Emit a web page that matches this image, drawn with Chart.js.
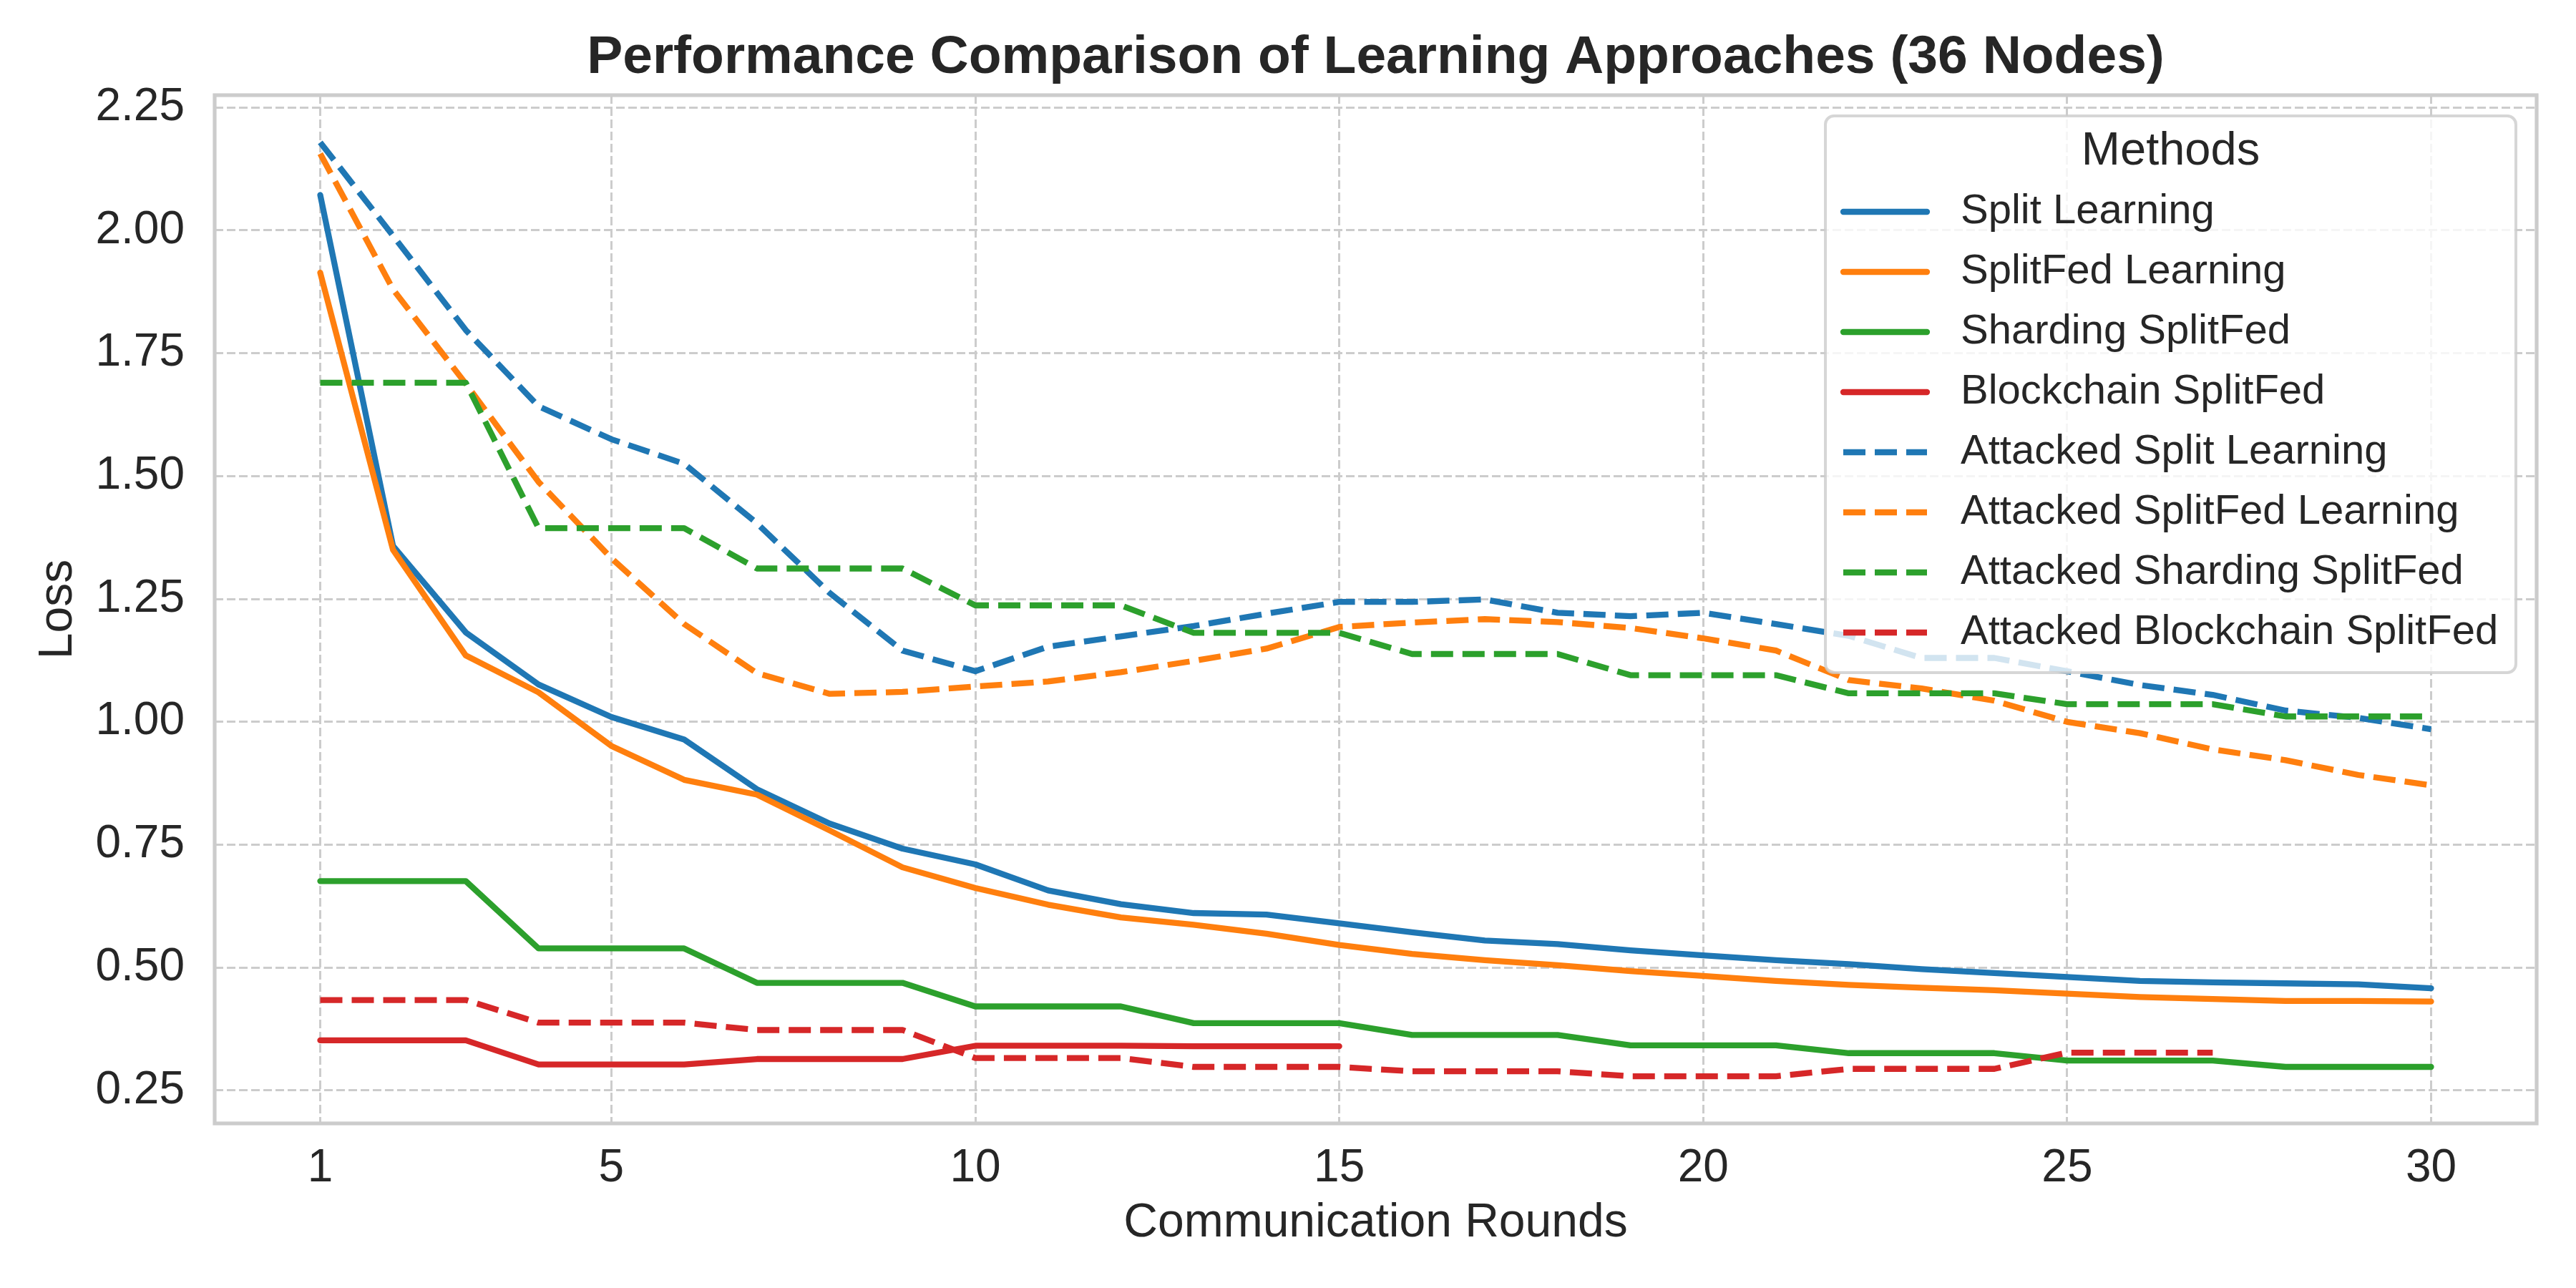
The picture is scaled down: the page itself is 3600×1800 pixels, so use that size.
<!DOCTYPE html>
<html>
<head>
<meta charset="utf-8">
<title>Performance Comparison of Learning Approaches</title>
<script src="https://cdn.jsdelivr.net/npm/chart.js@4.4.1/dist/chart.umd.min.js"></script>
<style>
  html, body { margin:0; padding:0; background:#fff; }
  #wrap { width:3600px; height:1800px; }
</style>
</head>
<body>
<div id="wrap"><canvas id="lossChart"></canvas></div>

<script>
// ================= DATA =================
const rounds = [1,2,3,4,5,6,7,8,9,10,11,12,13,14,15,16,17,18,19,20,21,22,23,24,25,26,27,28,29,30];

const splitLearning = [2.072,1.358,1.182,1.076,1.010,0.964,0.863,0.793,0.742,0.710,0.657,0.629,0.611,0.608,0.590,
  0.572,0.555,0.548,0.535,0.525,0.515,0.507,0.497,0.489,0.481,0.473,0.470,0.468,0.466,0.458];

const splitFedLearning = [1.914,1.350,1.135,1.060,0.951,0.882,0.852,0.779,0.704,0.662,0.628,0.602,0.587,0.569,0.546,
  0.528,0.515,0.505,0.493,0.483,0.473,0.465,0.459,0.454,0.447,0.440,0.436,0.432,0.432,0.431];

const shardingSplitFed = [0.676,0.676,0.676,0.539,0.539,0.539,0.469,0.469,0.469,0.421,0.421,0.421,0.387,0.387,0.387,
  0.363,0.363,0.363,0.342,0.342,0.342,0.326,0.326,0.326,0.311,0.311,0.311,0.298,0.298,0.298];

const blockchainSplitFed = [0.352,0.352,0.352,0.303,0.303,0.303,0.314,0.314,0.314,0.341,0.341,0.341,0.340,0.340,0.340];

const attSplitLearning = [2.179,1.989,1.797,1.642,1.575,1.525,1.404,1.262,1.145,1.103,1.153,1.174,1.195,1.220,1.244,
  1.244,1.249,1.222,1.215,1.222,1.199,1.175,1.130,1.130,1.103,1.075,1.055,1.023,1.008,0.985];

const attSplitFedLearning = [2.156,1.880,1.688,1.488,1.333,1.199,1.099,1.057,1.061,1.072,1.082,1.101,1.124,1.149,1.193,
  1.202,1.209,1.203,1.191,1.170,1.145,1.085,1.068,1.043,1.000,0.977,0.944,0.922,0.892,0.871];

const attShardingSplitFed = [1.690,1.690,1.690,1.394,1.394,1.394,1.312,1.312,1.312,1.237,1.237,1.237,1.181,1.181,1.181,
  1.138,1.138,1.138,1.095,1.095,1.095,1.058,1.058,1.058,1.036,1.036,1.036,1.011,1.011,1.011];

const attBlockchainSplitFed = [0.434,0.434,0.434,0.388,0.388,0.388,0.373,0.373,0.373,0.316,0.316,0.316,0.298,0.298,0.298,
  0.289,0.289,0.289,0.279,0.279,0.279,0.294,0.294,0.294,0.327,0.327,0.327];

const xTicks = [1,5,10,15,20,25,30];
const yTicks = [0.25,0.50,0.75,1.00,1.25,1.50,1.75,2.00,2.25];

const seriesNames = [
  "Split Learning","SplitFed Learning","Sharding SplitFed","Blockchain SplitFed",
  "Attacked Split Learning","Attacked SplitFed Learning","Attacked Sharding SplitFed","Attacked Blockchain SplitFed"
];
const seriesValues = [
  splitLearning, splitFedLearning, shardingSplitFed, blockchainSplitFed,
  attSplitLearning, attSplitFedLearning, attShardingSplitFed, attBlockchainSplitFed
];
const seriesColors = ["#1f77b4","#ff7f0e","#2ca02c","#d62728","#1f77b4","#ff7f0e","#2ca02c","#d62728"];

const TITLE = "Performance Comparison of Learning Approaches (36 Nodes)";
const FONT = '"Liberation Sans", Arial, Helvetica, sans-serif';
const TEXT = "#262626";
const DASH = [31,13];


// ================= DATASETS =================
function buildDatasets(){
  return seriesNames.map((name,i)=>{
    const dashed = i >= 4;
    return {
      label: name,
      data: seriesValues[i].map((v,j)=>({x: rounds[j], y: v})),
      borderColor: seriesColors[i],
      backgroundColor: seriesColors[i],
      borderWidth: 8.3,
      borderDash: dashed ? DASH : [],
      borderCapStyle: dashed ? "butt" : "round",
      borderJoinStyle: "round",
      pointRadius: 0,
      pointHoverRadius: 0,
      tension: 0,
      fill: false,
      order: seriesNames.length - i
    };
  });
}


// ================= PLUGINS =================
const frameAndTitle = {
  id: "frameAndTitle",
  beforeDatasetsDraw(chart){
    const {ctx, chartArea: a} = chart;
    ctx.save();
    ctx.strokeStyle = "#cccccc";
    ctx.lineWidth = 5.2;
    ctx.strokeRect(a.left, a.top, a.right - a.left, a.bottom - a.top);
    ctx.restore();
  },
  afterDraw(chart){
    const {ctx, chartArea: a} = chart;
    ctx.save();
    ctx.font = "bold 75px " + FONT;
    ctx.fillStyle = TEXT;
    ctx.textAlign = "center";
    ctx.textBaseline = "middle";
    ctx.fillText(TITLE, (a.left + a.right) / 2, 81);
    ctx.restore();
  }
};

const methodsLegend = {
  id: "methodsLegend",
  afterDatasetsDraw(chart){
    const ctx = chart.ctx;
    const box = {x: 2551, y: 162, w: 965, h: 778, r: 12};

    ctx.save();
    ctx.beginPath();
    ctx.roundRect(box.x, box.y, box.w, box.h, box.r);
    ctx.fillStyle = "rgba(255,255,255,0.8)";
    ctx.fill();
    ctx.strokeStyle = "rgba(204,204,204,0.8)";
    ctx.lineWidth = 4;
    ctx.stroke();

    ctx.fillStyle = TEXT;
    ctx.textBaseline = "middle";
    ctx.textAlign = "center";
    ctx.font = "65px " + FONT;
    ctx.fillText("Methods", box.x + box.w / 2, 212);

    ctx.textAlign = "left";
    ctx.font = "58px " + FONT;
    seriesNames.forEach((name,i)=>{
      const y = 296 + i * 84;
      ctx.beginPath();
      ctx.setLineDash(i >= 4 ? DASH : []);
      ctx.lineCap = i >= 4 ? "butt" : "round";
      ctx.strokeStyle = seriesColors[i];
      ctx.lineWidth = 8.3;
      ctx.moveTo(2576, y);
      ctx.lineTo(2693, y);
      ctx.stroke();
      ctx.fillText(name, 2740, y);
    });
    ctx.restore();
  }
};


// ================= CHART =================
function drawChart(){

  const canvas = document.getElementById("lossChart");

  window.lossChart = new Chart(canvas, {
    type: "line",
    data: { datasets: buildDatasets() },
    options: {
      responsive: true,
      maintainAspectRatio: false,
      devicePixelRatio: 1,
      animation: false,
      events: [],
      layout: { padding: { top: 133, right: 55, bottom: 0, left: 0 } },
      plugins: {
        legend: { display: false },
        title: { display: false },
        tooltip: { enabled: false }
      },
      scales: {
        x: {
          type: "linear",
          min: -0.45,
          max: 31.45,
          afterBuildTicks: s => { s.ticks = xTicks.map(v => ({value: v})); },
          afterFit: s => { s.height = 230; },
          ticks: { color: TEXT, font: { size: 64, family: FONT }, padding: 25, maxRotation: 0 },
          grid: { color: "#cccccc", lineWidth: 3, drawTicks: false },
          border: { display: false, dash: [12,5] },
          title: {
            display: true, text: "Communication Rounds", color: TEXT,
            font: { size: 66, family: FONT }, padding: { top: 0, bottom: 51 }
          }
        },
        y: {
          type: "linear",
          min: 0.183,
          max: 2.275,
          afterBuildTicks: s => { s.ticks = yTicks.map(v => ({value: v})); },
          afterFit: s => { s.width = 300; },
          ticks: { color: TEXT, font: { size: 64, family: FONT }, padding: 42, callback: v => v.toFixed(2) },
          grid: { color: "#cccccc", lineWidth: 3, drawTicks: false },
          border: { display: false, dash: [12,5] },
          title: {
            display: true, text: "Loss", color: TEXT,
            font: { size: 66, family: FONT }, padding: { top: 42, bottom: 0 }
          }
        }
      }
    },
    plugins: [frameAndTitle, methodsLegend]
  });
}

window.onload = () => {
  drawChart();
};
</script>
</body>
</html>
